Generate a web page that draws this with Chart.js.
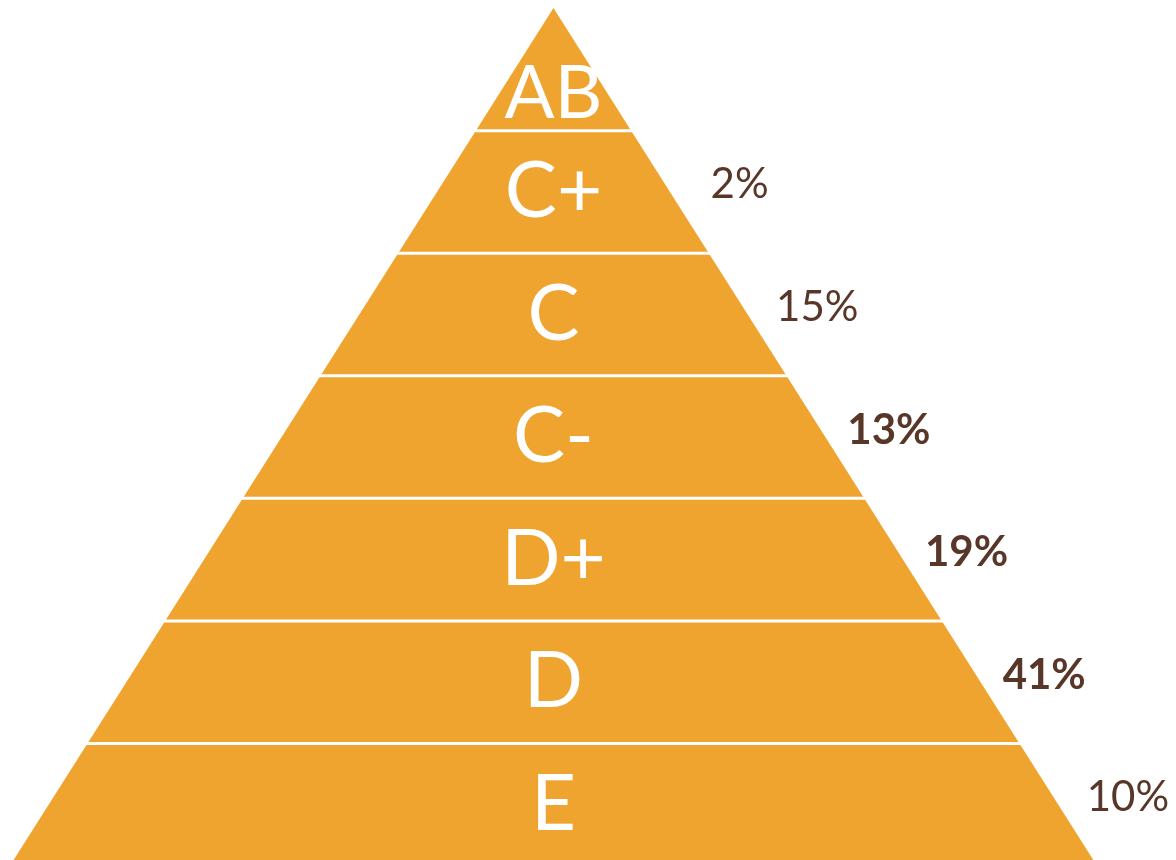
<!DOCTYPE html>
<html>
<head>
<meta charset="utf-8">
<script src="https://cdn.jsdelivr.net/npm/chart.js@4.4.1/dist/chart.umd.min.js"></script>
<style>
  html, body { margin: 0; padding: 0; background: #fff; }
  #wrap { width: 1176px; height: 860px; }
</style>
</head>
<body>
<div id="wrap"><canvas id="pyramid"></canvas></div>
<script>
// layers from top to bottom
const grades = ['AB', 'C+', 'C', 'C-', 'D+', 'D', 'E'];
const shares = [null, 2, 15, 13, 19, 41, 10];
const boldShares = [false, false, false, true, true, true, false];

const orange = '#EFA42F';
const brown = '#583628';
const n = grades.length;

// half width of the pyramid at a given level (0 = base, n = apex)
function halfWidth(level) {
  return (n - level) / n;
}

const datasets = [];

// one closed trapezoid per layer, bottom layer has level 0
grades.forEach(function (g, idx) {
  const lvl = n - 1 - idx;
  const w0 = halfWidth(lvl);
  const w1 = halfWidth(lvl + 1);
  datasets.push({
    label: g,
    data: [
      { x: -w0, y: lvl },
      { x: w0, y: lvl },
      { x: w1, y: lvl + 1 },
      { x: -w1, y: lvl + 1 },
      { x: -w0, y: lvl }
    ],
    showLine: true,
    fill: 'shape',
    backgroundColor: orange,
    borderWidth: 0,
    pointRadius: 0,
    order: 2
  });
});

// white separators between layers, drawn on top
for (let k = 1; k < n; k++) {
  const w = halfWidth(k);
  datasets.push({
    label: 'sep' + k,
    data: [{ x: -w - 0.01, y: k }, { x: w + 0.01, y: k }],
    showLine: true,
    fill: false,
    borderColor: '#ffffff',
    borderWidth: 3,
    pointRadius: 0,
    order: 1
  });
}

// labels inside the layers and shares on the right side
const labelPlugin = {
  id: 'pyramidLabels',
  afterDatasetsDraw(chart) {
    const ctx = chart.ctx;
    const xs = chart.scales.x;
    const ys = chart.scales.y;
    ctx.save();
    grades.forEach(function (g, idx) {
      const lvl = n - 1 - idx;
      // the apex triangle looks better with the text sitting low
      const mid = idx === 0 ? lvl + 0.3 : lvl + 0.5;
      ctx.fillStyle = '#ffffff';
      ctx.font = (idx === 0 ? '74px' : '78px') + ' Lato';
      ctx.textAlign = 'center';
      ctx.textBaseline = 'middle';
      ctx.fillText(g, xs.getPixelForValue(0), ys.getPixelForValue(mid));

      if (shares[idx] !== null) {
        const py = ys.getPixelForValue(lvl + 0.5) - 7;
        const edgeLvl = ys.getValueForPixel(py);
        const edgeX = xs.getPixelForValue(halfWidth(edgeLvl));
        ctx.fillStyle = brown;
        ctx.font = (boldShares[idx] ? 'bold ' : '') + '42px Lato';
        ctx.fillText(shares[idx] + '%', edgeX + (boldShares[idx] ? 68 : 74), py);
      }
    });
    ctx.restore();
  }
};

new Chart(document.getElementById('pyramid'), {
  type: 'scatter',
  data: { datasets: datasets },
  options: {
    responsive: true,
    maintainAspectRatio: false,
    animation: false,
    layout: { padding: 0 },
    plugins: {
      legend: { display: false },
      tooltip: { enabled: false }
    },
    scales: {
      x: { display: false, min: -1.018, max: 1.145 },
      y: { display: false, min: 0.049, max: 7.066 }
    }
  },
  plugins: [labelPlugin]
});
</script>
</body>
</html>
